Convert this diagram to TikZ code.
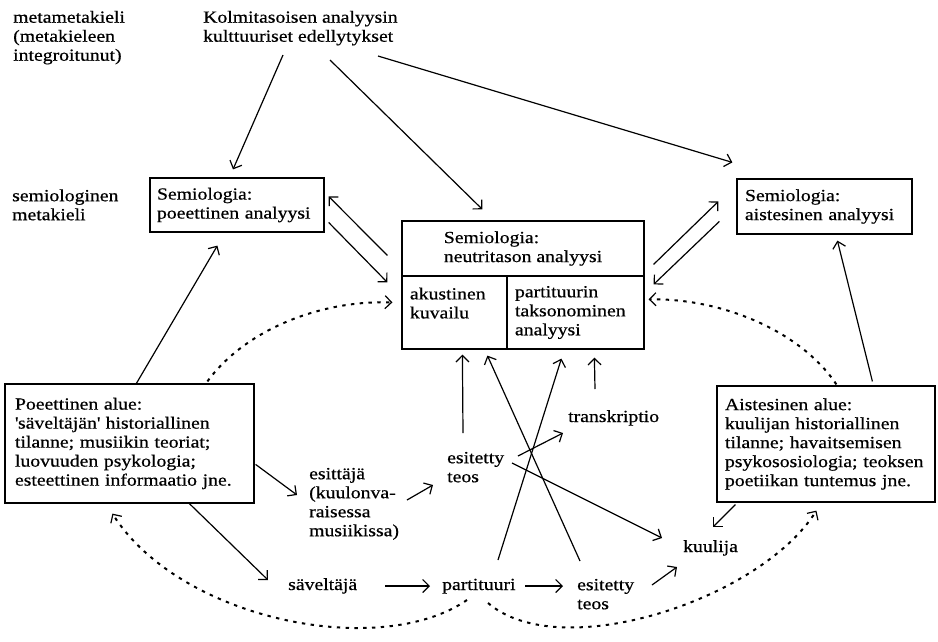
\documentclass[tikz,border=0pt]{standalone}
\usepackage{fontspec}
\setmainfont[FakeStretch=1.16,FakeBold=0.6]{Liberation Serif}
\usetikzlibrary{arrows.meta,calc}
\begin{document}
\begin{tikzpicture}[x=1pt,y=-1pt,
  every node/.style={font=\fontsize{17}{19}\selectfont},
  lbl/.style={inner sep=0pt, align=left, anchor=north west},
  word/.style={inner sep=0pt, anchor=base west},
  boxed/.style={draw, line width=1.2pt, inner ysep=0pt, align=left},
  conn/.style={line width=1.2pt, -{Straight Barb[length=6.5pt,width=13pt]}},
  hint/.style={line width=2pt, dash pattern=on 3.4pt off 5.4pt,
    -{Straight Barb[length=6.5pt,width=13pt,line width=1.2pt]}},
]
\useasboundingbox (0,0) rectangle (938,641);

% --- level labels and headings
\node[lbl] (meta) at (13,9.2) {\strut metametakieli\\(metakieleen\\integroitunut)};
\node[lbl] (kolm) at (203,9.2) {\strut Kolmitasoisen analyysin\\kulttuuriset edellytykset};
\node[lbl] (semmeta) at (12,187.7) {\strut semiologinen\\metakieli};

% --- the three semiological analyses
\node[boxed, inner xsep=7pt, text width=160pt, minimum height=54pt] (spoe) at (237,205)
  {Semiologia:\\poeettinen analyysi};
\node[boxed, inner xsep=8pt, text width=159pt, minimum height=55pt] (sais) at (824.5,206.5)
  {Semiologia:\\aistesinen analyysi};
\node[boxed, minimum width=242pt, minimum height=55pt] (neutop) at (523,248.5)
  {Semiologia:\\neutritason analyysi};
\node[boxed, inner xsep=8pt, text width=89pt, minimum height=73pt] (neuleft) at (454.5,312.5)
  {akustinen\\kuvailu\\\mbox{}};
\node[boxed, inner xsep=8pt, text width=121pt, minimum height=73pt] (neuright) at (575.5,312.5)
  {partituurin\\taksonominen\\analyysi};

% --- poietic and esthesic fields
\node[boxed, inner xsep=10pt, text width=229pt, minimum height=119pt] (pa) at (129.5,443.5)
  {Poeettinen alue:\\\textquotesingle säveltäjän\textquotesingle\ historiallinen\\tilanne; musiikin teoriat;\\luovuuden psykologia;\\esteettinen informaatio jne.};
\node[boxed, inner xsep=8pt, text width=202pt, minimum height=116pt] (aa) at (826,444)
  {Aistesinen alue:\\kuulijan historiallinen\\tilanne; havaitsemisen\\psykososiologia; teoksen\\poetiikan tuntemus jne.};

% --- actors and objects
\node[lbl] (esittaja) at (309,465.7) {\strut esittäjä\\(kuulonva-\\raisessa\\musiikissa)};
\node[lbl] (esit1) at (447,449.7) {\strut esitetty\\teos};
\node[lbl] (esit2) at (577,576.7) {\strut esitetty\\teos};
\node[word] (savel) at (288,590) {säveltäjä};
\node[word] (part) at (442,590) {partituuri};
\node[word] (kuul) at (683,552) {kuulija};
\node[word] (trans) at (568,422) {transkriptio};

% --- cultural presuppositions
\draw[conn] ($(kolm.north west)+(80,45.8)$) -- ($(spoe.north)+(-4,-8)$);
\draw[conn] ($(kolm.north west)+(127,50.8)$) -- ($(neutop.north west)+(81,-11)$);
\draw[conn] ($(kolm.north west)+(175,46.8)$) -- ($(sais.north west)+(-4,-16)$);

% --- exchanges with the neutral level
\draw[conn] ($(neutop.north west)+(-14,35)$) -- ($(spoe.north east)+(4,19)$);
\draw[conn] ($(spoe.north east)+(4,45)$) -- ($(neutop.north west)+(-14,62)$);
\draw[conn] ($(neutop.north east)+(9,44)$) -- ($(sais.north west)+(-18,23)$);
\draw[conn] ($(sais.north west)+(-17,43)$) -- ($(neutop.north east)+(9,64)$);

% --- fields to their analyses
\draw[conn] ($(pa.north west)+(132,0)$) -- ($(spoe.south west)+(68,13)$);
\draw[conn] ($(aa.north west)+(156,-4)$) -- ($(sais.south west)+(101,6)$);

% --- into the neutral analysis
\draw[conn] ($(esit1.north west)+(16,-16.7)$) -- ($(neuleft.south west)+(61,5)$);
\draw[conn] ($(esit2.north west)+(3,-15.7)$) -- ($(neuleft.south west)+(86,6)$);
\draw[conn] ($(part.base west)+(56,-30)$) -- ($(neuright.south west)+(55,9)$);
\draw[conn] ($(trans.base west)+(27,-33)$) -- ($(neuright.south west)+(88,8)$);

% --- performance chain
\draw[conn] ($(esit1.north west)+(71,6.3)$) -- ($(trans.base west)+(-5,11)$);
\draw[conn] ($(esit1.north west)+(65,13.3)$) -- ($(kuul.base west)+(-21,-14)$);
\draw[conn] ($(aa.south west)+(19,2)$) -- ($(kuul.base west)+(30,-25)$);
\draw[conn] ($(pa.north east)+(1,81)$) -- ($(esittaja.north west)+(-12,29.3)$);
\draw[conn] ($(pa.south west)+(185,0)$) -- ($(savel.base west)+(-20,-10)$);
\draw[conn] ($(esittaja.north west)+(98,34.3)$) -- ($(esit1.north west)+(-14,35.3)$);
\draw[conn] ($(savel.base west)+(97,-4)$) -- ($(part.base west)+(-12,-4)$);
\draw[conn] ($(part.base west)+(83,-4)$) -- ($(esit2.north west)+(-14,9.3)$);
\draw[conn] ($(esit2.north west)+(75,8.3)$) -- ($(kuul.base west)+(-6,15)$);

% --- dotted feedback curves
\draw[hint] ($(pa.north west)+(203,-2)$) .. controls (245,330) and (320,300) .. ($(neutop.north west)+(-9,82)$);
\draw[hint] ($(aa.north west)+(120,-1)$) .. controls (800,330) and (720,298) .. ($(neutop.north east)+(4,79)$);
\draw[hint] ($(part.base west)+(25,10)$) .. controls (380,660) and (180,620) .. ($(pa.south west)+(108,10)$);
\draw[hint] ($(part.base west)+(46,13)$) .. controls (560,665) and (760,600) .. ($(aa.south west)+(100,8)$);
\end{tikzpicture}
\end{document}
